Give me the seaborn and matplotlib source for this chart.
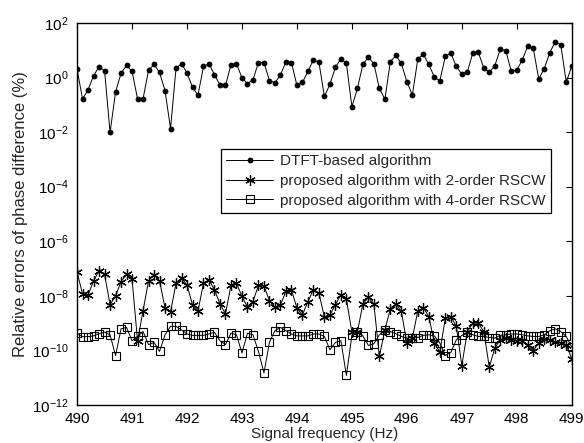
import numpy as np
import pandas as pd
import matplotlib
matplotlib.use("Agg")
import matplotlib.pyplot as plt
import seaborn as sns
from matplotlib.markers import MarkerStyle
from matplotlib.ticker import FixedLocator, LogFormatterSciNotation, NullLocator

# signal frequencies, 0.1 Hz steps from 490 to 499 Hz
freq = np.round(np.linspace(490, 499, 91), 1)

# exponents (log10 of the relative error in %)
dtft_exp = [0.30, -0.79, -0.44, 0.07, 0.40, 0.25, -2.01, -0.53, 0.16, 0.45,
            0.23, -0.78, -0.78, 0.27, 0.48, 0.19, -0.48, -1.87, 0.34, 0.51,
            0.17, -0.36, -0.64, 0.41, 0.51, 0.10, -0.27, -0.29, 0.47, 0.51,
            -0.01, -0.22, -0.08, 0.55, 0.55, -0.11, -0.19, 0.10, 0.58, 0.55,
            -0.29, -0.18, 0.23, 0.65, 0.56, -0.69, -0.25, 0.38, 0.69, 0.52,
            -1.07, -0.40, 0.48, 0.75, 0.51, -0.40, -0.79, 0.58, 0.81, 0.52,
            -0.15, -0.64, 0.69, 0.85, 0.48, 0.02, -0.12, 0.78, 0.90, 0.41,
            0.12, 0.21, 0.90, 0.92, 0.36, 0.19, 0.44, 1.04, 0.99, 0.23,
            0.27, 0.65, 1.15, 1.07, -0.05, 0.33, 0.91, 1.32, 1.20, -0.16,
            0.41]

rscw2_exp = [-7.13, -7.94, -7.97, -7.45, -7.08, -7.21, -8.33, -8.01, -7.48, -7.21,
             -7.39, -9.65, -8.55, -7.45, -7.23, -7.45, -8.45, -8.60, -7.54, -7.35,
             -7.60, -8.33, -8.55, -7.54, -7.41, -7.78, -8.30, -8.66, -7.62, -7.54,
             -8.02, -8.41, -8.21, -7.62, -7.63, -8.18, -8.41, -8.33, -7.84, -7.78,
             -8.45, -8.70, -8.21, -7.78, -7.90, -8.78, -8.70, -8.33, -7.96, -8.12,
             -9.33, -9.33, -8.30, -8.06, -8.30, -10.22, -9.25, -8.48, -8.30, -8.57,
             -9.73, -9.55, -8.55, -8.43, -8.76, -9.73, -10.06, -8.82, -8.76, -9.12,
             -10.56, -9.31, -9.00, -9.00, -9.31, -10.61, -9.92, -9.61, -9.55, -9.61,
             -9.64, -9.65, -9.82, -10.01, -9.73, -9.57, -9.61, -9.69, -9.73, -9.79,
             -10.31]

rscw4_exp = [-9.37, -9.50, -9.50, -9.47, -9.39, -9.33, -9.43, -10.19, -9.21, -9.16,
             -9.65, -9.49, -9.31, -9.79, -9.71, -10.04, -9.43, -9.12, -9.12, -9.25,
             -9.40, -9.45, -9.45, -9.45, -9.40, -9.34, -9.65, -9.79, -9.37, -9.43,
             -10.10, -9.37, -9.43, -10.04, -10.83, -9.70, -9.28, -9.16, -9.28, -9.40,
             -9.47, -9.47, -9.47, -9.40, -9.40, -9.49, -9.98, -9.71, -9.65, -10.92,
             -9.45, -9.33, -9.47, -9.82, -9.76, -9.43, -9.25, -9.31, -9.39, -9.49,
             -9.55, -9.53, -9.53, -9.45, -9.43, -9.47, -9.73, -10.19, -10.08, -9.61,
             -9.45, -9.34, -9.43, -9.49, -9.49, -9.53, -9.55, -9.45, -9.43, -9.40,
             -9.40, -9.43, -9.47, -9.49, -9.49, -9.43, -9.28, -9.21, -9.31, -9.49,
             -9.89]

labels = ["DTFT-based algorithm",
          "proposed algorithm with 2-order RSCW",
          "proposed algorithm with 4-order RSCW"]
xticks = [490, 491, 492, 493, 494, 495, 496, 497, 498, 499]
yticks = [1e-12, 1e-10, 1e-8, 1e-6, 1e-4, 1e-2, 1e0, 1e2]

df = pd.DataFrame({"freq": freq,
                   "dtft": 10.0 ** np.array(dtft_exp),
                   "rscw2": 10.0 ** np.array(rscw2_exp),
                   "rscw4": 10.0 ** np.array(rscw4_exp)})

sns.set_style("white")
plt.rcParams["font.family"] = ["Liberation Sans", "DejaVu Sans"]
plt.rcParams["mathtext.default"] = "regular"
plt.rcParams["font.size"] = 11

fig = plt.figure(figsize=(5.84, 4.43), dpi=100)
ax = fig.add_axes([0.132, 0.086, 0.847, 0.862])

lw = 0.7
asterisk = MarkerStyle((6, 2, 0))
sns.lineplot(data=df, x="freq", y="dtft", ax=ax, color="black", lw=lw,
             marker="o", markersize=4.2, markeredgewidth=0, label=labels[0])
sns.lineplot(data=df, x="freq", y="rscw2", ax=ax, color="black", lw=lw,
             marker=asterisk, markersize=7.5, markeredgewidth=0.9,
             markeredgecolor="black", label=labels[1])
sns.lineplot(data=df, x="freq", y="rscw4", ax=ax, color="black", lw=lw,
             marker="s", markersize=6, markerfacecolor="none",
             markeredgecolor="black", markeredgewidth=0.8, label=labels[2])

ax.set_yscale("log")
ax.set_xlim(490, 499)
ax.set_ylim(1e-12, 1e2)
ax.xaxis.set_major_locator(FixedLocator(xticks))
ax.yaxis.set_major_locator(FixedLocator(yticks))
ax.yaxis.set_major_formatter(LogFormatterSciNotation())
ax.yaxis.set_minor_locator(NullLocator())
ax.tick_params(direction="in", length=4, width=0.8, top=True, right=True,
               labelsize=11, colors="black")
ax.tick_params(axis="x", pad=5)
ax.tick_params(axis="y", pad=6)
for s in ax.spines.values():
    s.set_color("black")
    s.set_linewidth(1.0)

ax.set_xlabel("Signal frequency (Hz)", fontsize=11, labelpad=1)
ax.set_ylabel("Relative errors of phase difference (%)", fontsize=12, labelpad=3)

leg = ax.legend(loc="upper right", bbox_to_anchor=(0.958, 0.670), fontsize=11,
                frameon=True, fancybox=False, edgecolor="black", framealpha=1,
                handlelength=3.1, labelspacing=0.37, borderpad=0.35,
                handletextpad=0.45, borderaxespad=0)
leg.get_frame().set_linewidth(0.9)

fig.savefig("out.png", dpi=100)
